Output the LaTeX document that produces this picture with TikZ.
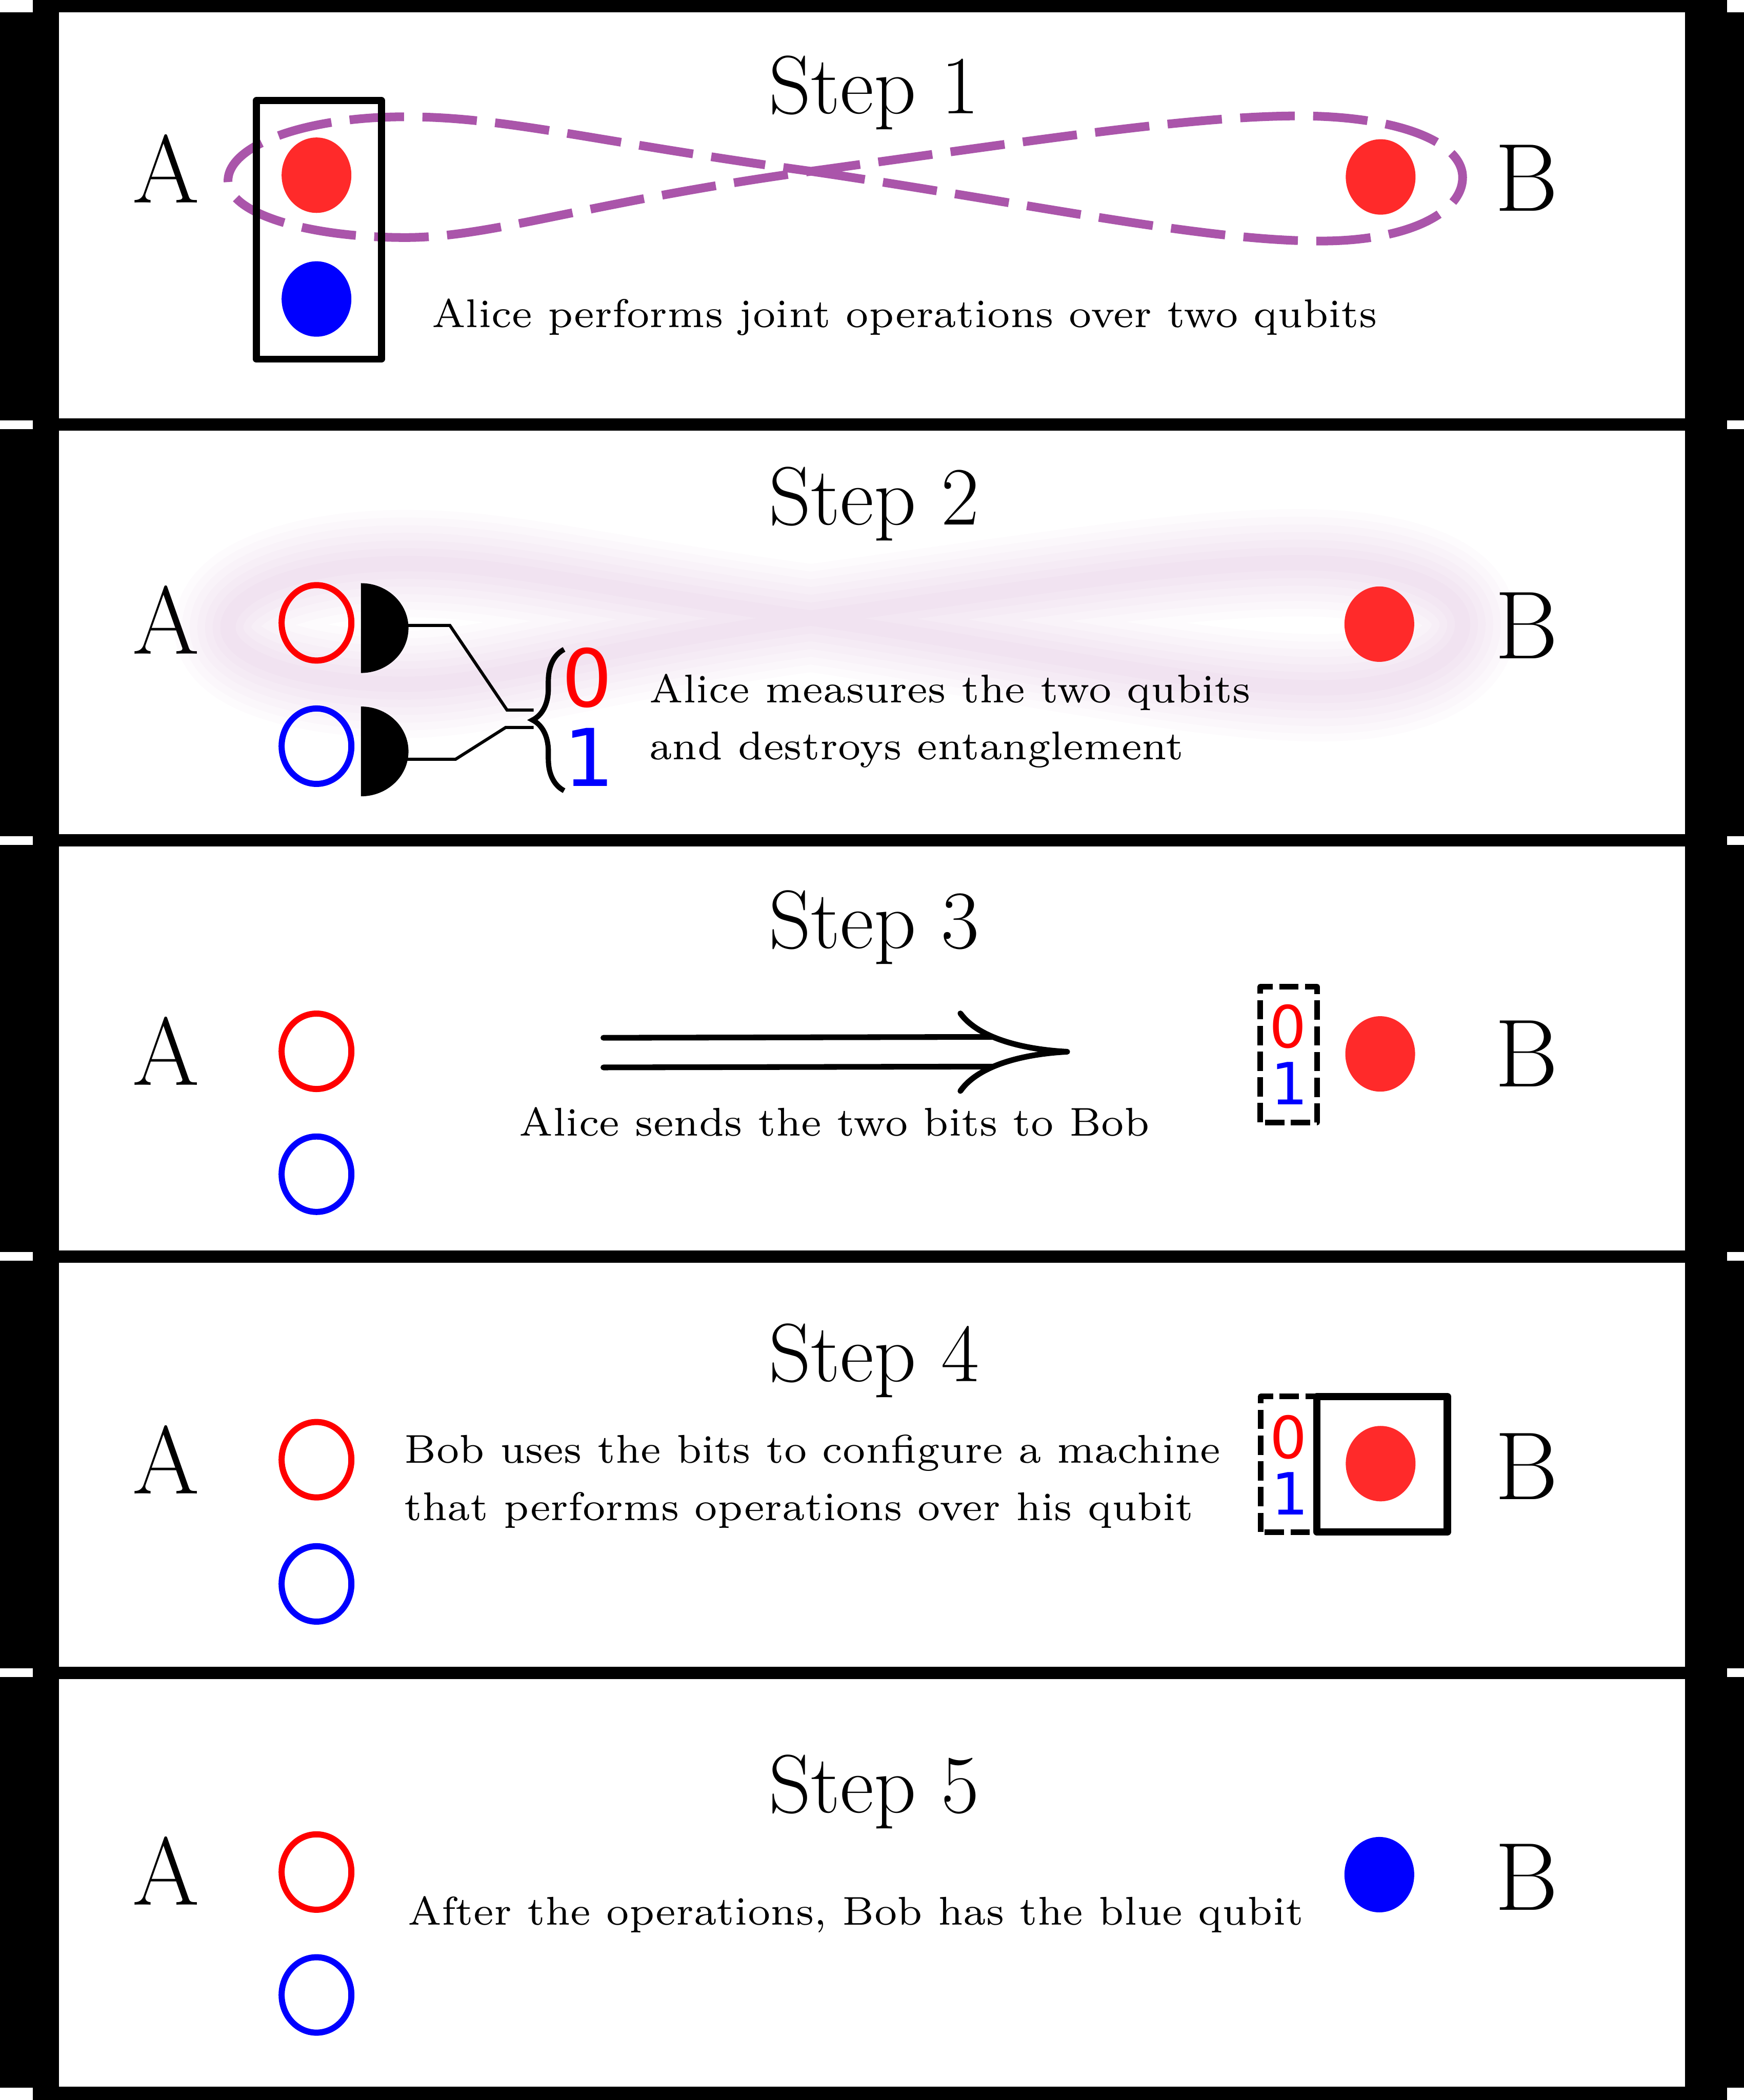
\documentclass[tikz,border=0pt]{standalone}
\usepackage{fontspec}
\newfontfamily\bitfont{DejaVu Sans}
\usetikzlibrary{calc,shapes.geometric,decorations.pathreplacing}

\definecolor{qred}{RGB}{255,42,42}
\definecolor{entpurple}{RGB}{170,85,170}

% the entangled pair: one lobe at Alice, one at Bob
\newcommand{\eightpath}{(18.6,44.25) .. controls (23.7,43.5) and (27.6,42.65) .. (30.3,42.65)
  .. controls (32.3,42.65) and (33.55,43.3) .. (33.55,44.11)
  .. controls (33.55,44.95) and (32.0,45.52) .. (29.8,45.52)
  .. controls (27.3,45.52) and (23.7,44.95) .. (18.6,44.25)
  .. controls (13.5,43.55) and (11.3,42.73) .. (9.3,42.73)
  .. controls (7.0,42.73) and (5.23,43.3) .. (5.23,44.03)
  .. controls (5.23,44.85) and (7.0,45.50) .. (9.3,45.50)
  .. controls (11.6,45.50) and (13.5,44.95) .. (18.6,44.25)}

\tikzset{
  qdot/.style={ellipse,inner sep=0pt,minimum width=8mm,minimum height=8.65mm},
  party/.style={inner sep=0pt,font=\fontsize{31.5}{31.5}\selectfont},
  steptitle/.style={anchor=base,inner sep=0pt,font=\fontsize{27}{32}\selectfont},
  caption/.style={inner sep=0pt,align=left,scale=1.87,font=\fontsize{7}{10}\selectfont},
  bitbig/.style={inner sep=0pt,font=\bitfont\fontsize{26}{26}\selectfont},
  bitsmall/.style={inner sep=0pt,font=\bitfont\fontsize{19}{19}\selectfont},
  bitbox/.style={dash pattern=on 6.3pt off 2.1pt,line width=1.85pt,line join=round},
  wire/.style={line width=1pt},
}

\begin{document}
\begin{tikzpicture}[x=0.5cm,y=0.5cm]
  \useasboundingbox (0,0) rectangle (40,48.18);
  % film strip
  \fill (0,0) rectangle (40,48.18);
  \foreach \yb/\yt in {38.58/47.90,29.04/38.30,19.49/28.76,9.94/19.21,0.30/9.66}
    \fill[white] (1.35,\yb) rectangle (38.65,\yt);
  \foreach \yb/\yt in {47.90/48.18,38.34/38.54,28.80/29.00,19.25/19.45,9.70/9.90,0/0.28}{
    \fill[white] (0,\yb) rectangle (0.75,\yt);
    \fill[white] (39.62,\yb) rectangle (40,\yt);
  }
  % A, B and the titles
  \foreach \n/\ya/\yb/\yt in {1/44.31/44.09/45.57,2/33.96/33.83/36.14,3/24.07/24.00/26.43,4/14.69/14.54/16.48,5/5.26/5.11/6.59}{
    \node[party] (A\n) at (3.81,\ya) {A};
    \node[party] (B\n) at (35.02,\yb) {B};
    \node[steptitle] (step\n) at (20.05,\yt) {Step \n};
  }

  % step 1
  \draw[entpurple,line width=2.85pt,dash pattern=on 17.8pt off 6pt] \eightpath;
  \draw[line width=2.3pt,line join=round] (5.88,39.94) rectangle (8.75,45.87);
  \node[qdot,fill=qred] (ra1) at (7.26,44.16) {};
  \node[qdot,fill=blue] (ba1) at (7.26,41.32) {};
  \node[qdot,fill=qred] (rb1) at (31.67,44.12) {};
  \node[caption] (txt1) at (20.75,40.90) {Alice performs joint operations over two qubits};

  % step 2
  \begin{scope}[shift={(0,-10.25)}]
    \foreach \w in {5,10,...,35}
      \draw[entpurple,opacity=0.022,line width=\w pt] \eightpath;
  \end{scope}
  \foreach \y in {33.77,30.94}
    \fill[line join=round] (8.28,\y+1.03) -- (8.28,\y-1.03) arc[start angle=-90,end angle=90,x radius=1.09,y radius=1.03] -- cycle;
  \coordinate (det0) at (9.30,33.83);
  \coordinate (det1) at (9.30,30.76);
  \coordinate (brtop) at (12.24,31.89);
  \coordinate (brbot) at (12.24,31.49);
  \draw[wire] (det0) -- (10.32,33.83) -- (11.63,31.89) -- (brtop);
  \draw[wire] (det1) -- (10.45,30.76) -- (11.60,31.49) -- (brbot);
  \draw[line width=1.7pt,decorate,decoration={brace,amplitude=10.3pt}] (12.94,30.04) -- (12.94,33.28);
  \node[bitbig,text=red] (m0) at (13.47,32.63) {0};
  \node[bitbig,text=blue] (m1) at (13.52,30.81) {1};
  \node[caption,anchor=west] (txt2) at (14.87,31.64) {Alice measures the two qubits\\and destroys entanglement};
  \node[qdot,fill=qred] (rb2) at (31.64,33.86) {};

  % measured qubits stay with Alice
  \foreach \n/\yr/\yb in {2/33.89/31.06,3/24.06/21.24,4/14.69/11.84,5/5.23/2.41}{
    \node[qdot,draw=red,line width=2pt] (ra\n) at (7.26,\yr) {};
    \node[qdot,draw=blue,line width=2pt] (ba\n) at (7.26,\yb) {};
  }

  % step 3
  \coordinate (send) at (13.84,24.03);
  \coordinate (recv) at (24.48,24.05);
  \draw[line width=1.85pt,line cap=round] ($(send)+(0,0.34)$) -- ($(recv)+(-1.72,0.34)$)
    ($(send)+(0,-0.34)$) -- ($(recv)+(-1.72,-0.34)$);
  \draw[line width=1.85pt,line cap=round,line join=round] ($(recv)+(-2.45,0.88)$)
    .. controls ($(recv)+(-2.03,0.30)$) and ($(recv)+(-0.98,0.05)$) .. (recv)
    .. controls ($(recv)+(-0.98,-0.05)$) and ($(recv)+(-2.03,-0.30)$) .. ($(recv)+(-2.45,-0.90)$);
  \node[caption] (txt3) at (19.14,22.44) {Alice sends the two bits to Bob};
  \draw[bitbox] (28.91,22.43) rectangle (30.21,25.54);
  \node[bitsmall,text=red] (n0) at (29.54,24.63) {0};
  \node[bitsmall,text=blue] (n1) at (29.58,23.32) {1};
  \node[qdot,fill=qred] (rb3) at (31.66,24.00) {};

  % step 4
  \node[caption,anchor=west] (txt4) at (9.25,14.19) {Bob uses the bits to configure a machine\\that performs operations over his qubit};
  \draw[bitbox] (28.92,13.03) rectangle (30.21,16.14);
  \draw[line width=2.4pt,line join=round] (30.21,13.03) rectangle (33.20,16.14);
  \node[bitsmall,text=red] (k0) at (29.55,15.21) {0};
  \node[bitsmall,text=blue] (k1) at (29.59,13.91) {1};
  \node[qdot,fill=qred] (rb4) at (31.67,14.60) {};

  % step 5
  \node[caption] (txt5) at (19.63,4.25) {After the operations, Bob has the blue qubit};
  \node[qdot,fill=blue] (bb5) at (31.64,5.17) {};
\end{tikzpicture}
\end{document}
